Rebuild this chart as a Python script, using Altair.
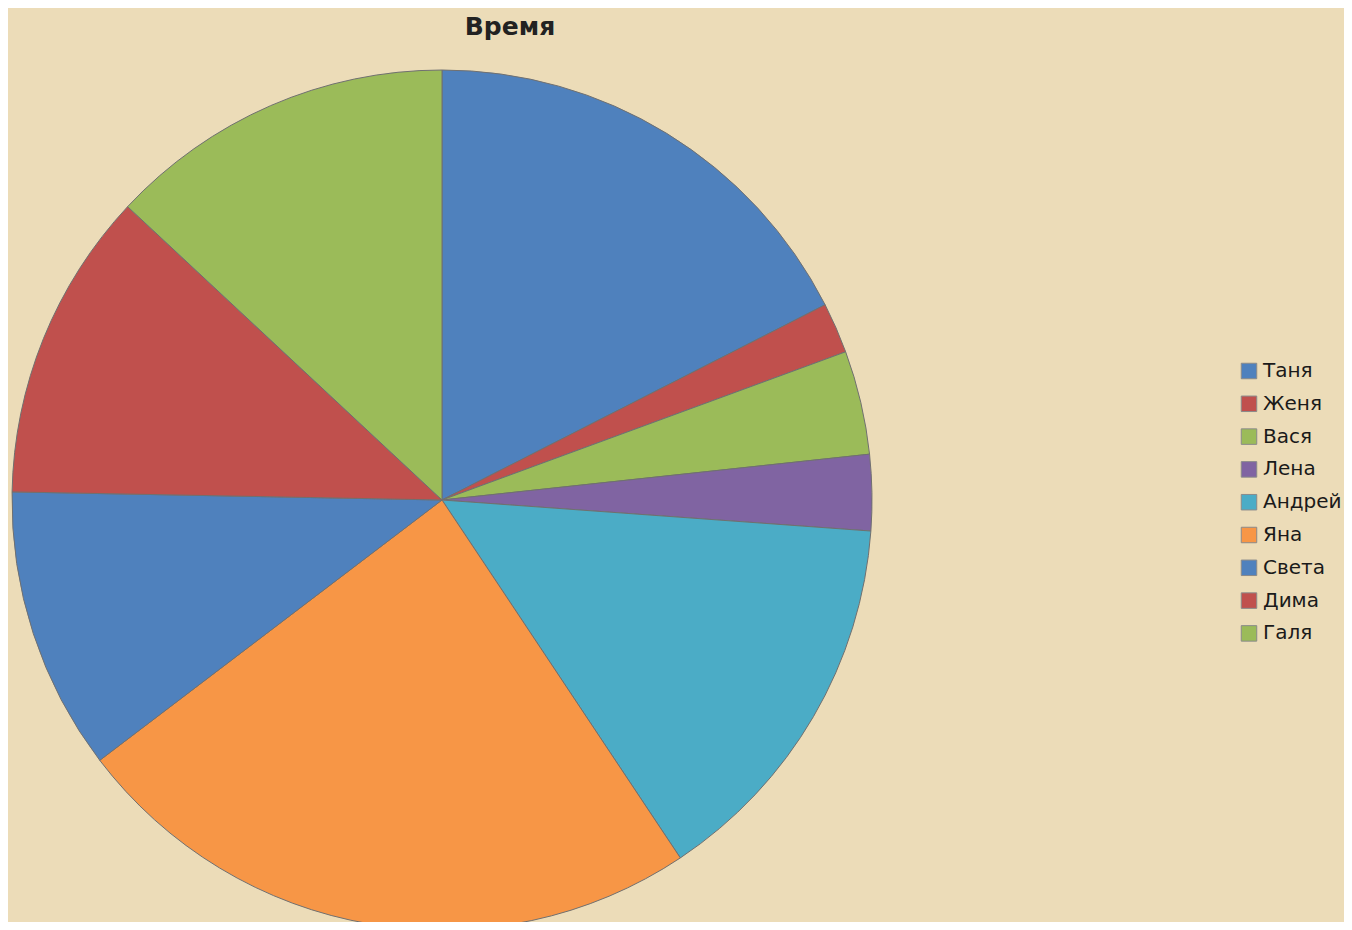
import altair as alt
import pandas as pd

names = ["Таня", "Женя", "Вася", "Лена", "Андрей", "Яна", "Света", "Дима", "Галя"]
values = [35, 3.8, 7.8, 5.7, 29, 48, 21.3, 23.3, 26.1]
colors = ["#4F81BD", "#C0504D", "#9BBB59", "#8064A2", "#4BACC6", "#F79646",
          "#4F81BD", "#C0504D", "#9BBB59"]

df = pd.DataFrame({"name": names, "value": values, "order": list(range(len(names)))})

chart = alt.Chart(df).mark_arc(radius=430, stroke="#707070", strokeWidth=1).encode(
    theta=alt.Theta("value:Q", stack=True),
    color=alt.Color(
        "name:N",
        scale=alt.Scale(domain=names, range=colors),
        sort=names,
        legend=alt.Legend(
            title=None, orient="none", legendX=1231, legendY=313,
            symbolType="square", symbolSize=240, symbolStrokeColor="#8a8a8a",
            symbolStrokeWidth=1, symbolOpacity=1,
            labelFont="DejaVu Sans", labelFontSize=20, labelColor="#1a1a1a",
            labelOffset=4, rowPadding=12.8, padding=0,
        ),
    ),
    order=alt.Order("order:Q"),
    x=alt.value(434),
    y=alt.value(452),
).properties(
    width=1336, height=874,
    title=alt.TitleParams("Время", font="DejaVu Sans", fontSize=25, fontWeight="bold",
                          color="#222222", anchor="middle", dx=-166, dy=-4),
    background="#ECDCB8",
    padding={"top": 40, "left": 0, "right": 0, "bottom": 0},
    autosize="none",
).configure_view(stroke=None)

chart.save("out.html", embed_options={"renderer": "svg", "actions": False})
